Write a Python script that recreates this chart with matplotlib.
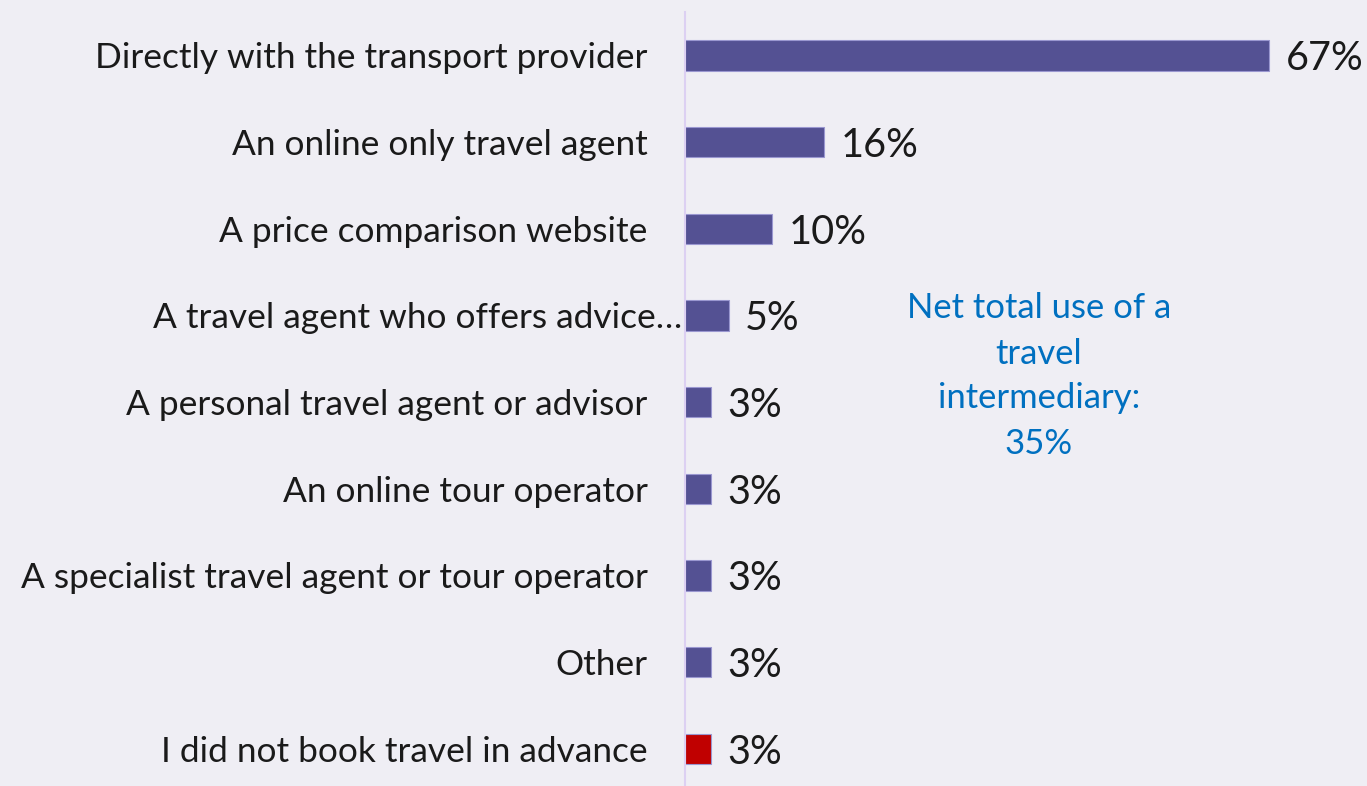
import matplotlib
matplotlib.use("Agg")
import matplotlib.pyplot as plt
import matplotlib.transforms as mtransforms

categories = [
    "Directly with the transport provider",
    "An online only travel agent",
    "A price comparison website",
    "A travel agent who offers advice…",
    "A personal travel agent or advisor",
    "An online tour operator",
    "A specialist travel agent or tour operator",
    "Other",
    "I did not book travel in advance",
]
values = [67, 16, 10, 5, 3, 3, 3, 3, 3]
value_labels = ["67%", "16%", "10%", "5%", "3%", "3%", "3%", "3%", "3%"]
bar_colors = ["#545193"] * 8 + ["#C00000"]
note_text = "Net total use of a\ntravel\nintermediary:\n35%"

plt.rcParams['font.family'] = ['Lato', 'DejaVu Sans']
bg = "#EFEEF4"
fig = plt.figure(figsize=(13.67, 7.86), dpi=100, facecolor=bg)
ax = fig.add_axes([685/1367, -6/786, 682/1367, 780/786])
ax.set_facecolor(bg)

y = list(range(len(categories)))
ax.barh(y, values, height=0.35, color=bar_colors, edgecolor="#9A97D0", linewidth=0.8)
ax.set_xlim(0, 682/8.716)
ax.set_ylim(len(categories) - 0.5, -0.5)

for yi, v, lab in zip(y, values, value_labels):
    ax.text(v + 1.9, yi + 0.04, lab, va="center", ha="left", fontsize=28.5, color="#1A1A1A")

ax.set_yticks(y)
ax.set_yticklabels(categories, fontsize=25.4, color="#1A1A1A")
ax.tick_params(axis="y", length=0, pad=27)
ax.set_xticks([])
for s in ["top", "right", "bottom"]:
    ax.spines[s].set_visible(False)
ax.spines["left"].set_color("#DCD0F2")
ax.spines["left"].set_linewidth(1.5)

# the truncated label sits further right, touching the axis line
lbl = ax.get_yticklabels()[3]
lbl.set_transform(lbl.get_transform() + mtransforms.ScaledTranslation(35/100, 0, fig.dpi_scale_trans))

ax.text(40.6, 3.7, note_text, ha="center", va="center", fontsize=24.9,
        color="#0070C0", linespacing=1.5)

fig.savefig("out.png", dpi=100, facecolor=bg)
